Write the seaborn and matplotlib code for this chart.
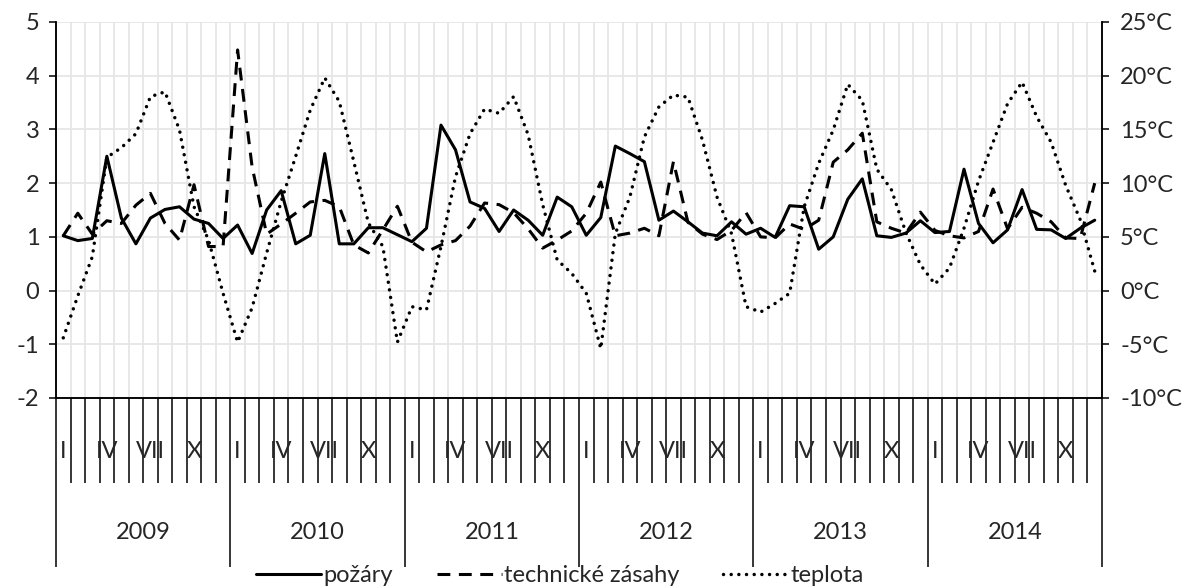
import numpy as np
import pandas as pd
import matplotlib
matplotlib.use("Agg")
import matplotlib.pyplot as plt
import matplotlib.transforms as mtransforms
from matplotlib.lines import Line2D
import seaborn as sns

# Monthly series, January 2009 – December 2014
years = [2009, 2010, 2011, 2012, 2013, 2014]
month_labels = {0: "I", 3: "IV", 6: "VII", 9: "X"}

pozary = [
    1.02, 0.93, 0.97, 2.50, 1.35, 0.87, 1.35, 1.51, 1.56, 1.33, 1.25, 0.97,
    1.22, 0.69, 1.50, 1.86, 0.87, 1.03, 2.55, 0.87, 0.87, 1.17, 1.17, 1.04,
    0.91, 1.16, 3.08, 2.62, 1.65, 1.53, 1.10, 1.50, 1.31, 1.03, 1.74, 1.56,
    1.03, 1.36, 2.69, 2.55, 2.40, 1.31, 1.48, 1.28, 1.07, 1.02, 1.28, 1.05,
    1.16, 0.99, 1.58, 1.56, 0.77, 1.00, 1.70, 2.08, 1.02, 0.99, 1.07, 1.30,
    1.08, 1.10, 2.26, 1.25, 0.89, 1.13, 1.88, 1.14, 1.13, 0.97, 1.16, 1.31,
]

technicke_zasahy = [
    1.02, 1.44, 1.05, 1.30, 1.25, 1.59, 1.81, 1.25, 0.94, 1.97, 0.82, 0.82,
    4.48, 2.30, 1.05, 1.24, 1.44, 1.65, 1.68, 1.56, 0.85, 0.70, 1.13, 1.57,
    0.90, 0.72, 0.85, 0.93, 1.20, 1.63, 1.60, 1.45, 1.15, 0.79, 0.94, 1.11,
    1.44, 2.02, 1.02, 1.07, 1.16, 1.02, 2.40, 1.27, 1.05, 0.95, 1.12, 1.45,
    1.00, 0.98, 1.24, 1.14, 1.31, 2.39, 2.62, 2.93, 1.28, 1.16, 1.07, 1.46,
    1.12, 1.02, 0.98, 1.10, 1.89, 1.15, 1.55, 1.44, 1.28, 0.98, 0.97, 2.00,
]

teplota = [
    -4.4, -0.5, 3.15, 12.4, 13.3, 14.6, 18.05, 18.5, 14.95, 7.8, 4.7, -0.25,
    -4.8, -1.6, 3.5, 8.3, 12.5, 16.8, 19.8, 17.6, 12.0, 6.3, 4.1, -4.8,
    -1.5, -1.8, 4.1, 10.6, 14.6, 16.9, 16.5, 18.05, 14.5, 8.0, 2.85, 1.6,
    -0.25, -5.4, 5.3, 8.7, 14.3, 17.1, 18.2, 18.0, 14.0, 8.7, 5.3, -1.5,
    -2.0, -1.2, -0.25, 7.8, 11.85, 14.95, 19.2, 17.7, 11.3, 9.4, 5.4, 2.4,
    0.6, 2.1, 5.8, 10.2, 13.8, 17.4, 19.4, 16.2, 13.8, 9.8, 6.6, 1.8,
]

left_ticks = list(range(-2, 6))
right_ticks = list(range(-10, 30, 5))

df = pd.DataFrame({
    "mesic": np.arange(len(pozary)),
    "pozary": pozary,
    "technicke": technicke_zasahy,
    "teplota": teplota,
})

sns.set_theme(style="white")
plt.rcParams["font.family"] = ["Lato", "DejaVu Sans"]
plt.rcParams["axes.unicode_minus"] = False

FS = 17
W, H = 1187, 588
x0, x1, y0, y1 = 56, 1102, 22, 398

fig = plt.figure(figsize=(W / 100, H / 100), dpi=100)
fig.patch.set_facecolor("white")
ax = fig.add_axes([x0 / W, 1 - y1 / H, (x1 - x0) / W, (y1 - y0) / H])
ax2 = ax.twinx()

LW = 2.2
LW_DOT = 2.5
DASH = (0, (4.2, 2.8))
DOT = (0, (0.01, 2.2))

sns.lineplot(data=df, x="mesic", y="pozary", ax=ax, color="black", lw=LW)
sns.lineplot(data=df, x="mesic", y="technicke", ax=ax, color="black", lw=LW)
sns.lineplot(data=df, x="mesic", y="teplota", ax=ax2, color="black", lw=LW_DOT)
ax.lines[0].set_linestyle("-")
ax.lines[1].set_linestyle(DASH)
ax2.lines[0].set_linestyle(DOT)
ax2.lines[0].set_dash_capstyle("round")

n = len(pozary)
ax.set_xlim(-0.5, n - 0.5)
ax.set_ylim(-2, 5)
ax2.set_ylim(-10, 25)

# Category axis: month boundaries as minor ticks, year boundaries as long major ticks
ax.set_xticks(np.arange(-0.5, n, 12))
ax.set_xticks(np.arange(-0.5, n, 1), minor=True)
ax.set_xticklabels([])
ax.tick_params(axis="x", which="major", bottom=True, length=122, width=1.1,
               color="black", direction="out")
ax.tick_params(axis="x", which="minor", bottom=True, length=61, width=1.1,
               color="black", direction="out")

ax.set_yticks(left_ticks)
ax.set_yticklabels([str(v) for v in left_ticks], fontsize=FS)
ax.tick_params(axis="y", left=True, length=5, width=1.1, color="black",
               direction="out", pad=7)
ax2.set_yticks(right_ticks)
ax2.set_yticklabels([f"{v}°C" for v in right_ticks], fontsize=FS)
ax2.tick_params(axis="y", right=True, length=5, width=1.1, color="black",
                direction="out", pad=8)

ax.set_xlabel("")
ax.set_ylabel("")
ax2.set_ylabel("")

ax.set_axisbelow(True)
ax.grid(True, axis="y", color="#e6e6e6", lw=1.3)
ax.grid(True, axis="x", which="both", color="#e6e6e6", lw=1.3)

for a in (ax, ax2):
    a.spines["top"].set_visible(False)
    for s in ("left", "right", "bottom"):
        a.spines[s].set_color("black")
        a.spines[s].set_linewidth(1.1)

trans = mtransforms.blended_transform_factory(ax.transData, ax.transAxes)
for yi, yr in enumerate(years):
    for m, lab in month_labels.items():
        ax.text(yi * 12 + m, -0.141, lab, transform=trans, ha="center",
                va="center", fontsize=FS)
    ax.text(yi * 12 + 5.5, -0.359, str(yr), transform=trans, ha="center",
            va="center", fontsize=FS)

handles = [
    Line2D([], [], color="black", lw=LW, linestyle="-"),
    Line2D([], [], color="black", lw=LW, linestyle=DASH),
    Line2D([], [], color="black", lw=LW_DOT, linestyle=DOT, dash_capstyle="round"),
]
fig.legend(handles, ["požáry", "technické zásahy", "teplota"],
           loc="center", bbox_to_anchor=(560 / W, 1 - 576 / H), ncol=3,
           frameon=False, fontsize=FS, handlelength=2.75, handletextpad=0.1,
           columnspacing=1.85)

fig.savefig("out.png", dpi=100, facecolor="white")
